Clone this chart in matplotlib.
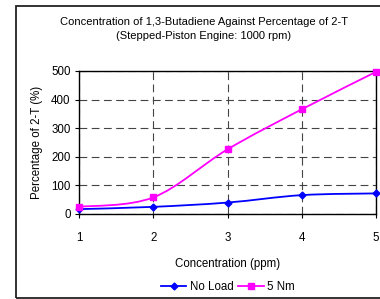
import matplotlib
matplotlib.use("Agg")
import matplotlib.pyplot as plt
import numpy as np
from matplotlib.lines import Line2D
from matplotlib.patches import PathPatch, Rectangle
from matplotlib.path import Path

plt.rcParams["font.family"] = ["Liberation Sans", "DejaVu Sans"]

conc = [1, 2, 3, 4, 5]
no_load = [17, 25, 40, 66, 72]
nm5 = [25, 58, 226, 366, 497]
yticks = [0, 100, 200, 300, 400, 500]

BLUE, MAGENTA = "#0000ff", "#ff00ff"


def smooth_path(x, y):
    # Excel-style smoothed line: Catmull-Rom segments as cubic Beziers
    p = np.column_stack([x, y]).astype(float)
    verts, codes = [p[0]], [Path.MOVETO]
    n = len(p)
    for i in range(n - 1):
        p0 = p[i - 1] if i > 0 else p[i]
        p3 = p[i + 2] if i + 2 < n else p[i + 1]
        c1 = p[i] + (p[i + 1] - p0) / 6
        c2 = p[i + 1] - (p3 - p[i]) / 6
        verts += [c1, c2, p[i + 1]]
        codes += [Path.CURVE4] * 3
    return Path(verts, codes)


fig = plt.figure(figsize=(3.8, 2.99), dpi=100)
fig.patches.append(Rectangle((16 / 380, 1 / 299), 1.0, 292 / 299, transform=fig.transFigure,
                             fill=False, ec="#222222", lw=1.3))
ax = fig.add_axes([79 / 380, 1 - 214 / 299, 297 / 380, 143 / 299])

for ys, c, m, ms in ((no_load, BLUE, "D", 3.5), (nm5, MAGENTA, "s", 4.5)):
    ax.add_patch(PathPatch(smooth_path(conc, ys), fill=False, ec=c, lw=1.3, zorder=3))
    ax.plot(conc, ys, ls="none", marker=m, ms=ms, color=c, zorder=4, clip_on=False)

ax.set_xlim(1, 5)
ax.set_ylim(0, 500)
ax.set_xticks(conc)
ax.set_yticks(yticks)
ax.grid(True, ls=(0, (7, 4)), color="#444444", lw=0.8)
ax.tick_params(direction="out", length=3, width=0.8, labelsize=8.3, pad=3)
ax.tick_params(axis="x", pad=10)
for s in ax.spines.values():
    s.set_linewidth(1.0)
ax.set_xlabel("Concentration (ppm)", fontsize=8.3, labelpad=10)
ax.set_ylabel("Percentage of 2-T (%)", fontsize=8.3, labelpad=6)

fig.text(204 / 380, 1 - 22 / 299, "Concentration of 1,3-Butadiene Against Percentage of 2-T",
         ha="center", va="center", fontsize=8)
fig.text(204 / 380, 1 - 36 / 299, "(Stepped-Piston Engine: 1000 rpm)",
         ha="center", va="center", fontsize=8)

handles = [Line2D([], [], color=BLUE, lw=1.3, marker="D", ms=3.5),
           Line2D([], [], color=MAGENTA, lw=1.3, marker="s", ms=4.5)]
fig.legend(handles, ["No Load", "5 Nm"], loc="center", bbox_to_anchor=(228 / 380, 1 - 287 / 299),
           ncol=2, frameon=False, fontsize=8.3, handlelength=2.2, handletextpad=0.3,
           columnspacing=0.4, borderaxespad=0)

fig.savefig("out.png", dpi=100)
